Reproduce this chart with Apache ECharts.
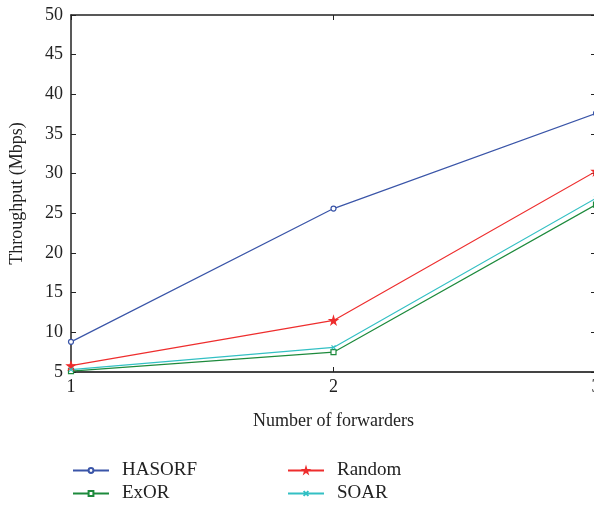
<!DOCTYPE html>
<html>
<head>
<meta charset="utf-8">
<script src="https://cdn.jsdelivr.net/npm/echarts@6/dist/echarts.min.js"></script>
<style>
  html, body { margin: 0; padding: 0; background: #fff; }
  #chart { width: 594px; height: 511px; }
</style>
</head>
<body>
<div id="chart"></div>
<script>
// forwarders on the x axis
const forwarders = [1, 2, 3]
const hasorf = [8.8, 25.6, 37.6]
const exor = [5.1, 7.5, 26.1]
const random = [5.8, 11.5, 30.3]
const soar = [5.3, 8.1, 26.9]

const font = 'Liberation Serif'
const xMark = 'path://M0,0L10,10M10,0L0,10'
const star = 'path://M50,0L61,35L98,35L68,57L79,91L50,70L21,91L32,57L2,35L39,35Z'

function line (name, data, color, symbol, size, filled) {
  return {
    name: name,
    type: 'line',
    data: forwarders.map((f, i) => [f, data[i]]),
    symbol: symbol,
    symbolSize: size,
    showAllSymbol: true,
    lineStyle: { color: color, width: 1.2 },
    itemStyle: {
      color: filled ? color : '#fff',
      borderColor: color,
      borderWidth: 1.2
    }
  }
}

const tick = { inside: true, length: 5, lineStyle: { color: '#222' } }
const legendBase = {
  orient: 'vertical',
  top: 456,
  itemWidth: 36,
  itemHeight: 6,
  itemGap: 4,
  textStyle: { fontFamily: font, fontSize: 19, color: '#222', padding: [0, 0, 0, 8] }
}

const chart = echarts.init(document.getElementById('chart'))
chart.setOption({
  animation: false,
  grid: { left: 71, top: 15, width: 525, bottom: 139, outerBoundsMode: 'none', containLabel: false },
  xAxis: [
    {
      type: 'value',
      min: 1,
      max: 3,
      interval: 1,
      name: 'Number of forwarders',
      nameLocation: 'middle',
      nameGap: 40,
      nameTextStyle: { fontFamily: font, fontSize: 18, color: '#222' },
      axisLine: { lineStyle: { color: '#444', width: 2 } },
      axisTick: tick,
      axisLabel: { fontFamily: font, fontSize: 18, color: '#222', margin: 6 },
      splitLine: { show: false }
    },
    {
      type: 'value', min: 1, max: 3, interval: 1, position: 'top',
      axisLine: { lineStyle: { color: '#222', width: 1.5 } },
      axisTick: tick,
      axisLabel: { show: false }, splitLine: { show: false }
    }
  ],
  yAxis: [
    {
      type: 'value',
      min: 5,
      max: 50,
      interval: 5,
      name: 'Throughput (Mbps)',
      nameLocation: 'middle',
      nameGap: 45,
      nameTextStyle: { fontFamily: font, fontSize: 18, color: '#222' },
      axisLine: { lineStyle: { color: '#222', width: 1.5 } },
      axisTick: tick,
      axisLabel: { fontFamily: font, fontSize: 18, color: '#222', margin: 8 },
      splitLine: { show: false }
    },
    {
      type: 'value', min: 5, max: 50, interval: 5, position: 'right',
      axisLine: { show: true, lineStyle: { color: '#222', width: 1.5 } },
      axisTick: { show: true, inside: true, length: 5, lineStyle: { color: '#222' } },
      axisLabel: { show: false }, splitLine: { show: false }
    }
  ],
  legend: [
    Object.assign({ data: ['HASORF', 'ExOR'], left: 67 }, legendBase),
    Object.assign({ data: ['Random', 'SOAR'], left: 282 }, legendBase)
  ],
  series: [
    line('HASORF', hasorf, '#3a55a8', 'circle', 5, false),
    line('ExOR', exor, '#1d8a3c', 'rect', 5, false),
    line('Random', random, '#ee2d2d', star, 8, true),
    line('SOAR', soar, '#33c0c4', xMark, 4, false)
  ]
})
</script>
</body>
</html>
